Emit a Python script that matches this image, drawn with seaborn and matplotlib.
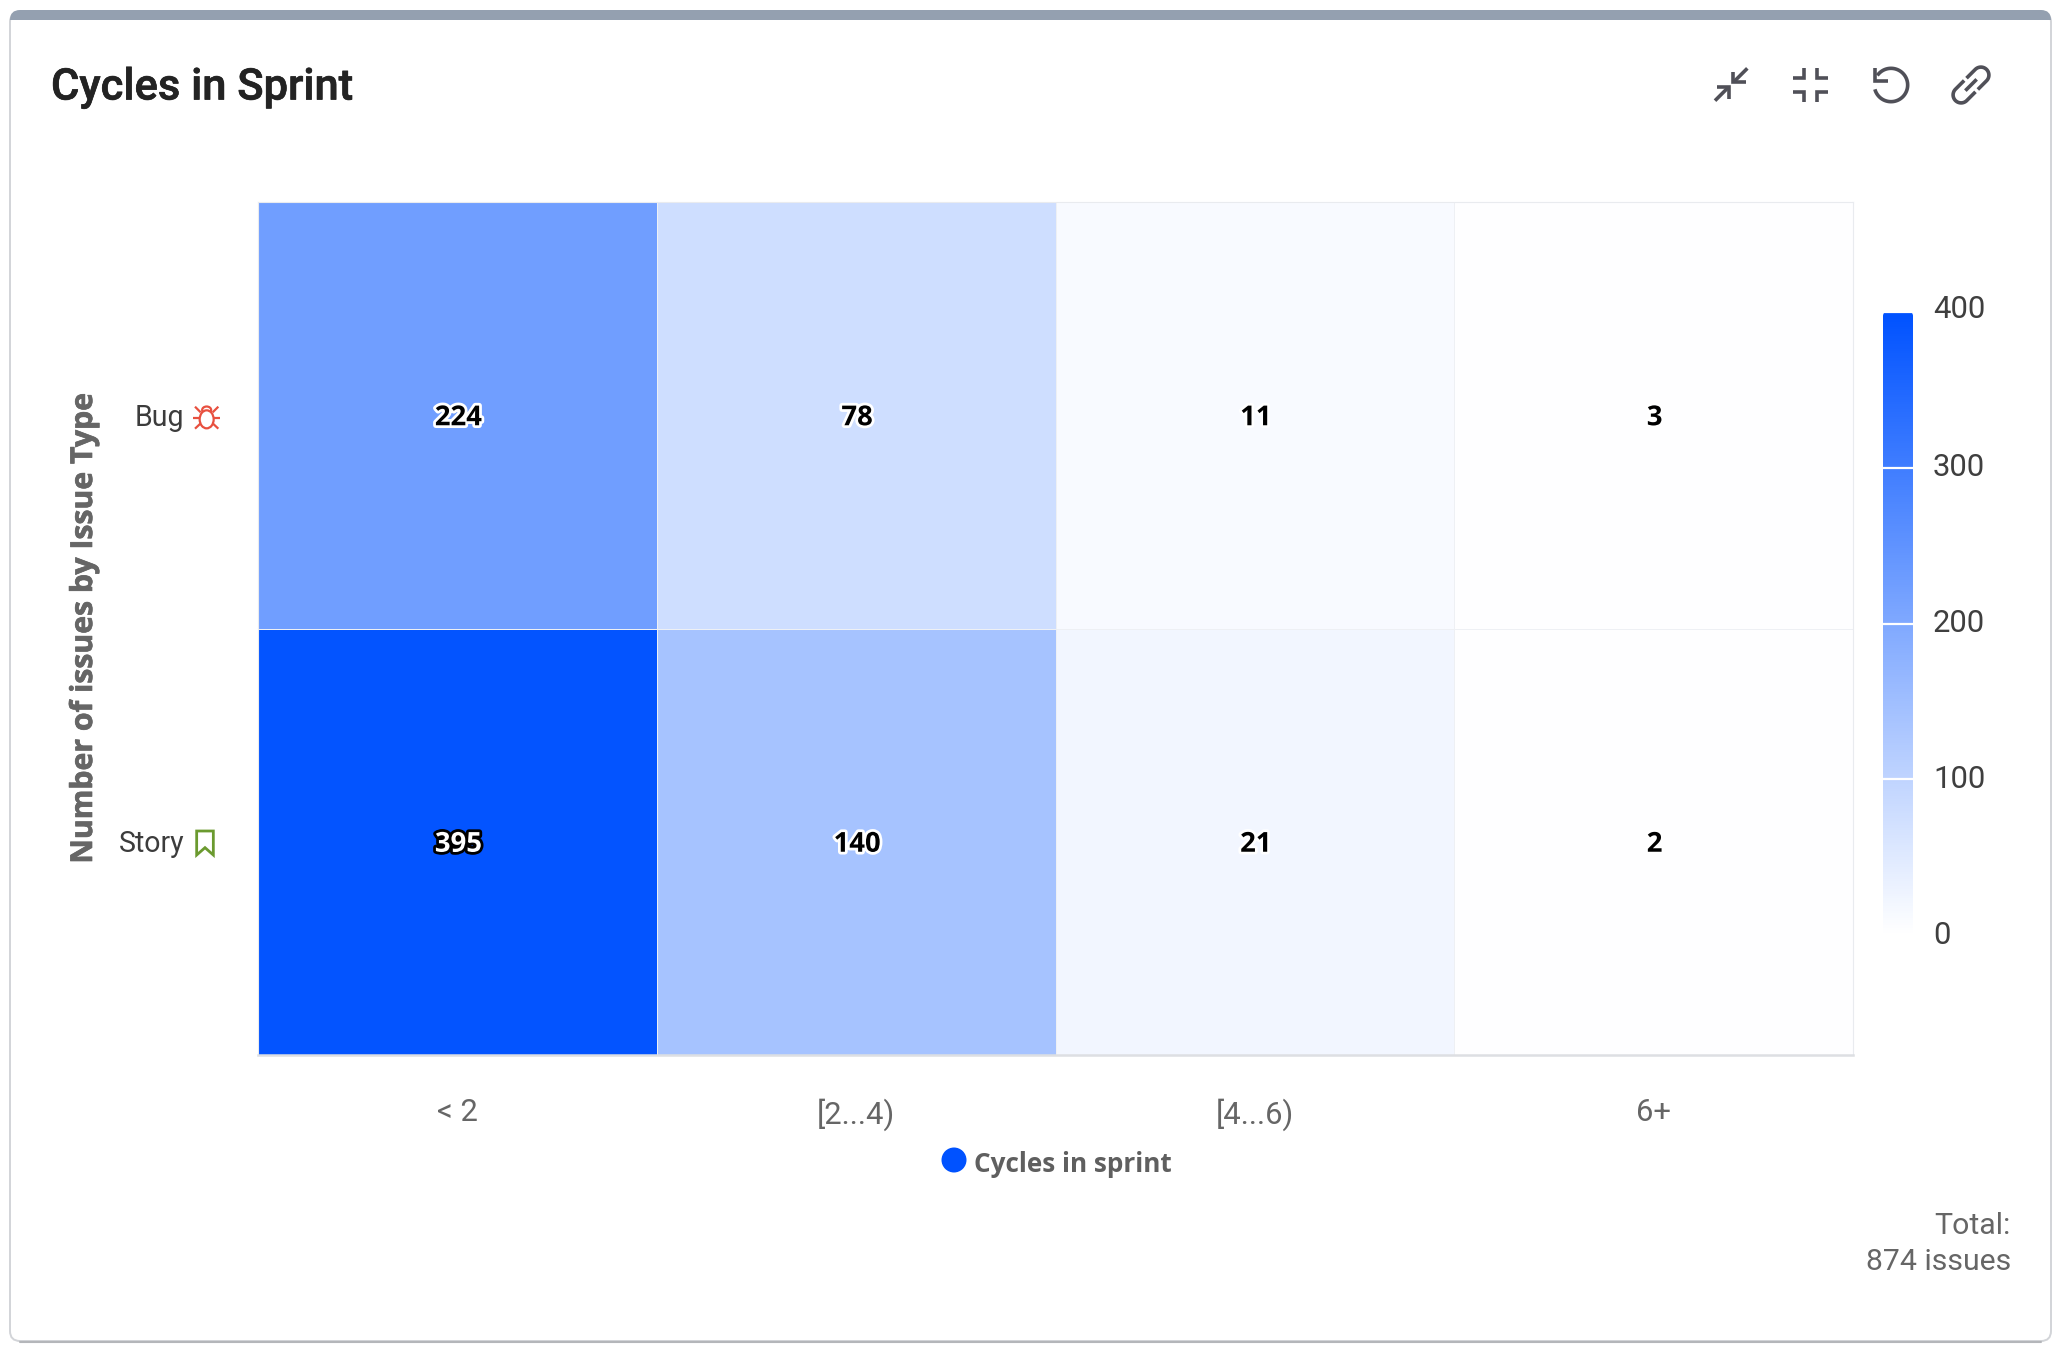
import numpy as np
import pandas as pd
import seaborn as sns
import matplotlib
matplotlib.use("Agg")
import matplotlib.pyplot as plt
import matplotlib.patheffects as pe
from matplotlib.colors import LinearSegmentedColormap
from matplotlib.transforms import ScaledTranslation
from matplotlib.patches import FancyBboxPatch, Rectangle, Ellipse, Circle, Polygon

issue_types = ["Bug", "Story"]
cycle_bins = ["< 2", "[2...4)", "[4...6)", "6+"]
bug_counts = [224, 78, 11, 3]
story_counts = [395, 140, 21, 2]
cbar_ticks = [0, 100, 200, 300, 400]
title_text = "Cycles in Sprint"
y_title = "Number of issues by Issue Type"
legend_text = "Cycles in sprint"
total_lines = "Total:\n874 issues"

W, H = 2060, 1352
sns.set_theme(style="white")
plt.rcParams["font.family"] = ["Roboto", "DejaVu Sans"]

fig = plt.figure(figsize=(W / 100, H / 100), dpi=100, facecolor="white")


def axes_px(x0, y0, x1, y1, **kw):
    return fig.add_axes([x0 / W, 1 - y1 / H, (x1 - x0) / W, (y1 - y0) / H], **kw)


def fs(px):
    return px * 72 / 100


def nudge(label, dx_px=0.0, dy_px=0.0):
    label.set_transform(label.get_transform()
                        + ScaledTranslation(dx_px / 100, -dy_px / 100, fig.dpi_scale_trans))


# page layer in pixel coordinates
bg = axes_px(0, 0, W, H, zorder=0)
bg.set_xlim(0, W)
bg.set_ylim(H, 0)
bg.axis("off")

card = FancyBboxPatch((10, 12), 2041, 1329, boxstyle="round,pad=0,rounding_size=10",
                      fc="white", ec="#D2D4D8", lw=1.4)
bg.add_patch(card)
bg.plot([20, 2041], [1342, 1342], color="#B4B6BA", lw=1.5, solid_capstyle="round")
band = Rectangle((8, 10), 2046, 10, fc="#94A0B0", ec="none")
bg.add_patch(band)
band.set_clip_path(FancyBboxPatch((10, 10), 2041, 1331, boxstyle="round,pad=0,rounding_size=10",
                                  transform=bg.transData))

# heat map
df = pd.DataFrame([bug_counts, story_counts], index=issue_types, columns=cycle_bins)
cmap = LinearSegmentedColormap.from_list("cycles", ["#FFFFFF", "#0052FF"])
ax = axes_px(258, 202, 1853, 1055, zorder=2)
cax = axes_px(1883, 312, 1913, 935, zorder=2)
sns.heatmap(df, ax=ax, cbar_ax=cax, cmap=cmap, vmin=0, vmax=400, annot=True, fmt="d",
            linewidths=0.6, linecolor="#EEF0F4",
            annot_kws={"fontfamily": "Open Sans", "fontweight": "bold", "fontsize": fs(27.5)},
            cbar_kws={"ticks": cbar_ticks})

for t in ax.texts:
    if int(t.get_text()) > 300:
        t.set_color("white")
        t.set_path_effects([pe.withStroke(linewidth=4.0, foreground="black")])
    else:
        t.set_color("black")
        t.set_path_effects([pe.withStroke(linewidth=4.0, foreground="white")])
    nudge(t, 1, 2.5)

for s in ax.spines.values():
    s.set_visible(True)
    s.set_color("#E9EBEF")
    s.set_linewidth(0.8)
ax.spines["bottom"].set_linewidth(1.8)
ax.spines["bottom"].set_color("#DDDFE3")

ax.set_xlabel("")
ax.set_ylabel("")
ax.tick_params(axis="x", length=0, pad=fs(43), labelsize=fs(31), labelcolor="#666666")
ax.tick_params(axis="y", length=0, pad=fs(74), labelsize=fs(28.5), labelcolor="#3C3C3C", labelrotation=0)
for lab in ax.get_yticklabels():
    lab.set_va("center")
    nudge(lab, 0, 2.5)

cb = ax.collections[0].colorbar
cb.outline.set_visible(False)
cax.set_axisbelow(False)
cax.tick_params(axis="y", direction="in", length=fs(30), width=1.6, color="white", pad=fs(20),
                labelsize=fs(31), labelcolor="#3F3F3F", right=True, left=False)
for lab, tick in zip(cax.get_yticklabels(), cbar_ticks):
    nudge(lab, 0, -5.5 if tick == cbar_ticks[-1] else -3)
cb.solids.set_clip_path(FancyBboxPatch((1883, 312), 30, 623, boxstyle="round,pad=0,rounding_size=4",
                                       transform=bg.transData))

# page texts
bg.text(51, 88, title_text, fontsize=fs(43.5), fontweight="medium", color="#232323", va="center", ha="left",
        path_effects=[pe.withStroke(linewidth=0.5, foreground="#232323")])
bg.text(84, 628, y_title, rotation=90, fontsize=fs(30.2), fontweight="bold", family="Open Sans",
        color="#666666", va="center", ha="center",
        path_effects=[pe.withStroke(linewidth=0.5, foreground="#666666")])
bg.add_patch(Circle((954, 1160), 12.5, fc="#0052FF", ec="none"))
bg.text(974, 1164.5, legend_text, fontsize=fs(26.1), fontweight="bold", family="Open Sans",
        color="#5F5F5F", va="center", ha="left")
bg.text(2011, 1244, total_lines, fontsize=fs(30.3), color="#666666", ha="right", va="center",
        linespacing=1.4)

# header icons: coordinates follow the 3x crop from (1660, 0)
ICON = "#505058"


def ic(points):
    pts = np.asarray(points, float)
    return 1660 + pts[:, 0] / 3, pts[:, 1] / 3


def stroke(points, color=ICON, lw=2.6):
    x, y = ic(points)
    bg.plot(x, y, color=color, lw=lw, solid_capstyle="butt", solid_joinstyle="miter")


for seg in [
    [(262, 205), (222, 245)], [(218, 215), (218, 247), (258, 247)],
    [(165, 302), (205, 262)], [(170, 262), (207, 262), (207, 298)],
    [(433, 203), (433, 235), (400, 235)], [(470, 203), (470, 235), (505, 235)],
    [(400, 275), (433, 275), (433, 307)], [(505, 275), (470, 275), (470, 307)],
    [(645, 205), (645, 243), (683, 243)],
]:
    stroke(seg)
th = np.radians(np.linspace(-145, 165, 80))
stroke(np.c_[693 + 50 * np.cos(th), 255 + 50 * np.sin(th)])

# link icon
c = np.array([933.0, 255.0])
u = np.array([1, -1]) / np.sqrt(2)
v = np.array([1, 1]) / np.sqrt(2)
for sgn in (1, -1):
    a = np.radians(np.linspace(-90, 90, 30))
    arc = [(sgn * (42 + 24 * np.cos(t)), 24 * np.sin(t)) for t in a]
    path = [(sgn * 5, -24)] + arc + [(sgn * 5, 24)]
    stroke([tuple(c + p * u + q * v) for p, q in path])
stroke([tuple(c + s * u) for s in (-24, 24)])


# row icons: coordinates follow the 3x crop from (40, 360)
def rc(points):
    pts = np.asarray(points, float)
    return 40 + pts[:, 0] / 3, 360 + pts[:, 1] / 3


RED = "#E8503F"
for seg in [
    [(460, 174), (540, 174)], [(465, 140), (482, 157)], [(535, 140), (518, 157)],
    [(465, 206), (482, 190)], [(535, 206), (518, 190)],
]:
    x, y = rc(seg)
    bg.plot(x, y, color=RED, lw=1.6, solid_capstyle="butt")
bx, by = rc([(500, 178)])
bg.add_patch(Ellipse((bx[0], by[0]), 14, 18, fc="white", ec=RED, lw=1.6, zorder=3))
hx, hy = rc([(500, 150)])
bg.add_patch(Ellipse((hx[0], hy[0]), 9, 7, fc="none", ec=RED, lw=1.6))
gx, gy = rc([(470, 1413), (520, 1413), (520, 1485), (495, 1463), (470, 1485)])
bg.add_patch(Polygon(np.c_[gx, gy], closed=True, fc="none", ec="#6B9A2F", lw=2.0))

fig.savefig("out.png", dpi=100, facecolor="white")
